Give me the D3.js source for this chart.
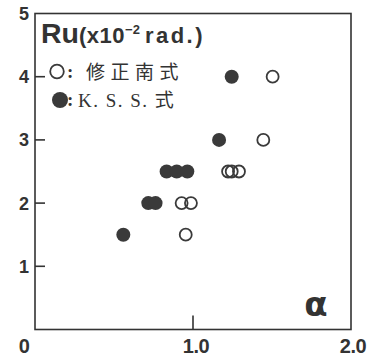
<!DOCTYPE html>
<html>
<head>
<meta charset="utf-8">
<script src="https://cdn.jsdelivr.net/npm/d3@7"></script>
<style>
  html, body { margin: 0; padding: 0; background: #fff; }
  svg { display: block; }
</style>
</head>
<body>
<svg id="chart" width="377" height="358"></svg>
<script>
// Deviation Ru (x10^-2 rad.) against alpha, two estimation formulas
const modNanAlpha = [0.954, 0.928, 0.987, 1.222, 1.245, 1.291, 1.445, 1.504];
const modNanRu    = [1.5,   2.0,   2.0,   2.5,   2.5,   2.5,   3.0,   4.0];
const kssAlpha    = [0.559, 0.717, 0.763, 0.833, 0.897, 0.964, 1.165, 1.245];
const kssRu       = [1.5,   2.0,   2.0,   2.5,   2.5,   2.5,   3.0,   4.0];
const yTicks = [1, 2, 3, 4];
const yLabels = [1, 2, 3, 4, 5];
const xTicks = [1.0];
const xLabels = ["0", "1.0", "2.0"];
const xLabelValues = [0, 1, 2];
const legendLabels = ["修正南式", "K. S. S. 式"];

const ink = "#333";
const svg = d3.select("#chart");
const x = d3.scaleLinear().domain([0, 2]).range([35, 351]);
const y = d3.scaleLinear().domain([0, 5]).range([329.5, 13.5]);

// frame
svg.append("rect")
  .attr("x", x(0)).attr("y", y(5))
  .attr("width", x(2) - x(0)).attr("height", y(0) - y(5))
  .attr("fill", "none").attr("stroke", ink).attr("stroke-width", 1.6);

// inward ticks
svg.selectAll("line.yt").data(yTicks).join("line")
  .attr("x1", x(0)).attr("x2", x(0) + 10)
  .attr("y1", d => y(d)).attr("y2", d => y(d))
  .attr("stroke", ink).attr("stroke-width", 1.6);
svg.selectAll("line.xt").data(xTicks).join("line")
  .attr("x1", d => x(d)).attr("x2", d => x(d))
  .attr("y1", y(0)).attr("y2", y(0) - 14)
  .attr("stroke", ink).attr("stroke-width", 1.6);

// tick labels
svg.selectAll("text.yl").data(yLabels).join("text")
  .attr("x", 24).attr("y", d => y(d) + 6.5)
  .attr("text-anchor", "middle")
  .attr("font-family", "Liberation Sans, Arial, sans-serif")
  .attr("font-weight", "bold").attr("font-size", 18).attr("fill", ink)
  .text(d => d);
svg.selectAll("text.xl").data(xLabelValues).join("text")
  .attr("x", (d, i) => i === 0 ? 24 : (i === 1 ? x(d) + 3 : x(d) + 2))
  .attr("y", 353)
  .attr("text-anchor", "middle")
  .attr("font-family", "Liberation Sans, Arial, sans-serif")
  .attr("font-weight", "bold").attr("font-size", 20).attr("fill", ink)
  .attr("letter-spacing", -0.5)
  .text((d, i) => xLabels[i]);

// axis title alpha
svg.append("text")
  .attr("x", 316).attr("y", 316)
  .attr("text-anchor", "middle")
  .attr("font-family", "DejaVu Sans, sans-serif")
  .attr("font-weight", "bold").attr("font-size", 34).attr("fill", ink)
  .text("α");

// y title
const title = svg.append("text")
  .attr("x", 41).attr("y", 43)
  .attr("font-family", "Liberation Sans, Arial, sans-serif")
  .attr("font-weight", "bold").attr("fill", ink);
title.append("tspan").attr("font-size", 28.5).text("Ru");
title.append("tspan").attr("font-size", 22).attr("letter-spacing", 0.5).text("(x10");
title.append("tspan").attr("font-size", 13).attr("dy", -9).text("−2");
title.append("tspan").attr("font-size", 22).attr("dy", 9).attr("dx", 5)
  .attr("letter-spacing", 2.5).text("rad.)");

// points
const r = 7;
svg.selectAll("circle.kss").data(kssAlpha).join("circle")
  .attr("cx", d => x(d)).attr("cy", (d, i) => y(kssRu[i]))
  .attr("r", r).attr("fill", "#3a3a3a");
svg.selectAll("circle.mn").data(modNanAlpha).join("circle")
  .attr("cx", d => x(d)).attr("cy", (d, i) => y(modNanRu[i]))
  .attr("r", r - 1).attr("fill", "none")
  .attr("stroke", "#3a3a3a").attr("stroke-width", 1.8);

// legend
const legY = [71.5, 100];
svg.append("circle").attr("cx", 57).attr("cy", legY[0]).attr("r", 6.8)
  .attr("fill", "none").attr("stroke", "#3a3a3a").attr("stroke-width", 1.8);
svg.append("circle").attr("cx", 60).attr("cy", legY[1]).attr("r", 8)
  .attr("fill", "#3a3a3a");
const legTextX = [86, 78];
const legSpacing = [5.5, 1.5];
legendLabels.forEach((t, i) => {
  svg.append("text")
    .attr("x", 67).attr("y", legY[i] + 6)
    .attr("font-family", "Liberation Serif, serif")
    .attr("font-weight", "bold")
    .attr("font-size", 19).attr("fill", ink)
    .text(":");
  svg.append("text")
    .attr("x", legTextX[i]).attr("y", legY[i] + 7)
    .attr("font-family", "Liberation Serif, 'Noto Sans CJK JP', serif")
    .attr("font-size", 19).attr("fill", ink)
    .attr("letter-spacing", legSpacing[i])
    .text(t);
});
</script>
</body>
</html>
